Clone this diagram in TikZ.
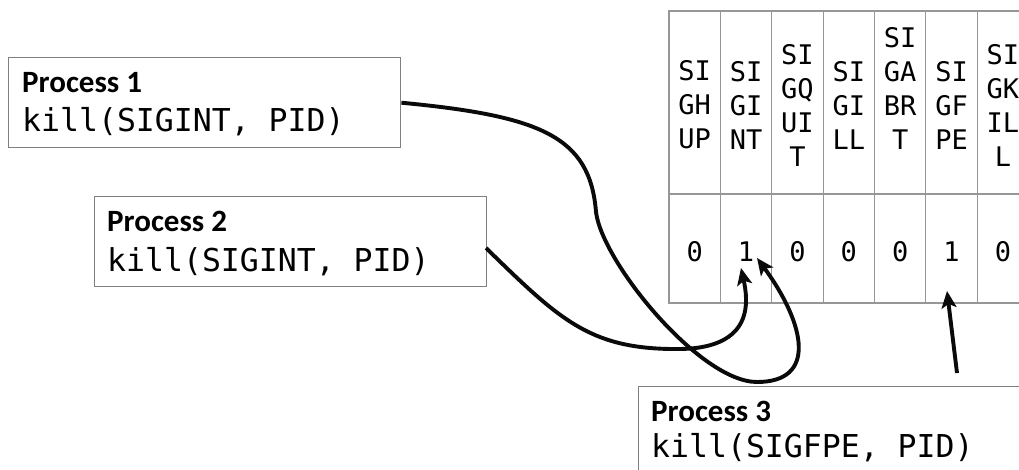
\documentclass[tikz,border=0pt]{standalone}
\usepackage{fontspec}
\setmainfont{Carlito}
\setmonofont{DejaVu Sans Mono}
\usetikzlibrary{arrows.meta,calc}

\definecolor{boxgray}{RGB}{128,128,128}
\definecolor{gridgray}{RGB}{150,150,150}
\definecolor{ink}{RGB}{10,10,10}

\begin{document}
\begin{tikzpicture}[x=1pt,y=-1pt,
  procbox/.style={draw=boxgray, line width=1.4pt, minimum width=392pt,
    minimum height=90pt, anchor=north west, inner sep=0pt},
  proctitle/.style={anchor=base west, inner sep=0pt,
    font=\fontsize{31}{31}\selectfont\bfseries},
  proccall/.style={anchor=base west, inner sep=0pt,
    font=\fontsize{31.5}{31.5}\selectfont\ttfamily},
  sighead/.style={align=center, inner sep=0pt,
    font=\fontsize{27}{34}\selectfont\ttfamily},
  bitval/.style={inner sep=0pt, font=\fontsize{27}{27}\selectfont\ttfamily},
  cellline/.style={draw=gridgray, line width=1.2pt},
  signal/.style={draw=ink, line width=3.9pt,
    -{Stealth[length=17pt,width=15pt,inset=4pt]}}
]
\path[use as bounding box] (0,0) rectangle (1019,470);
\clip (0,0) rectangle (1019,470);

% pending-signal table
\def\colw{51.37}
\foreach \i in {0,...,6}{
  \draw[cellline] ({669+\i*\colw},11) rectangle ({669+(\i+1)*\colw},194);
  \draw[cellline] ({669+\i*\colw},194) rectangle ({669+(\i+1)*\colw},303);
}
\node[sighead] (h1) at ({669+0.5*\colw},105) {SI\\GH\\UP};
\node[sighead] (h2) at ({669+1.5*\colw},105) {SI\\GI\\NT};
\node[sighead] (h3) at ({669+2.5*\colw},105) {SI\\GQ\\UI\\T};
\node[sighead] (h4) at ({669+3.5*\colw},105) {SI\\GI\\LL};
\node[sighead] (h5) at ({669+4.5*\colw},88)  {SI\\GA\\BR\\T};
\node[sighead] (h6) at ({669+5.5*\colw},105) {SI\\GF\\PE};
\node[sighead] (h7) at ({669+6.5*\colw},105) {SI\\GK\\IL\\L};

\node[bitval] (v1) at ({669+0.5*\colw},252) {0};
\node[bitval] (v2) at ({669+1.5*\colw},252) {1};
\node[bitval] (v3) at ({669+2.5*\colw},252) {0};
\node[bitval] (v4) at ({669+3.5*\colw},252) {0};
\node[bitval] (v5) at ({669+4.5*\colw},252) {0};
\node[bitval] (v6) at ({669+5.5*\colw},252) {1};
\node[bitval] (v7) at ({669+6.5*\colw},252) {0};

% sending processes
\node[procbox] (p1) at (8,57) {};
\node[proctitle] (p1t) at (22,93) {Process 1};
\node[proccall] (p1c) at (22,132) {kill(SIGINT, PID)};

\node[procbox] (p2) at (94,196) {};
\node[proctitle] (p2t) at (107,232) {Process 2};
\node[proccall] (p2c) at (107,271) {kill(SIGINT, PID)};

\node[procbox] (p3) at (638,386) {};
\node[proctitle] (p3t) at (651,421) {Process 3};
\node[proccall] (p3c) at (651,457) {kill(SIGFPE, PID)};

% arrow ends
\coordinate (tipA) at (757,258);
\coordinate (tipB) at (741,268);
\coordinate (tipC) at (947,291);
\coordinate (outB) at (486,248);
\coordinate (outC) at (957,373);

% signals
\draw[signal] (p1.east) .. controls (540,116) and (590,136) .. (596,212)
  .. controls (602,262) and (700,382) .. (757,382)
  .. controls (817,382) and (806,325) .. (tipA);
\draw[signal] (outB) .. controls (560,320) and (590,350) .. (680,349)
  .. controls (755,348) and (748,300) .. (tipB);
\draw[signal] (outC) -- (tipC);
\end{tikzpicture}
\end{document}
